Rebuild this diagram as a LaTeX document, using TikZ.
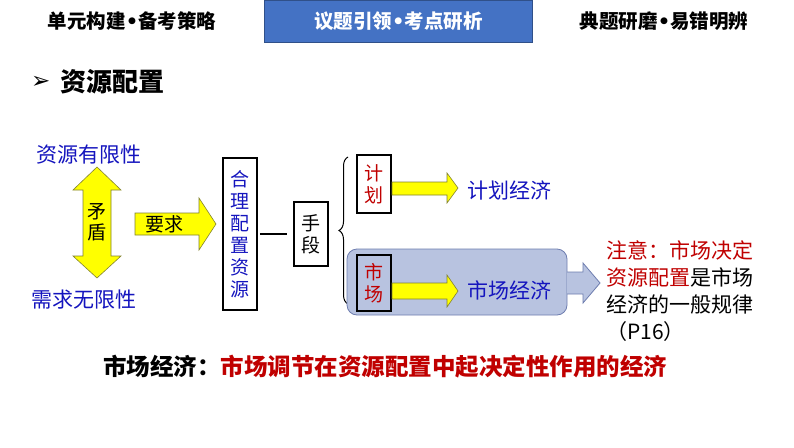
\documentclass[tikz,border=0pt]{standalone}
\usepackage{fontspec}
\setmainfont{Noto Sans CJK SC}
\newfontfamily\dejavu{DejaVu Sans}
\usetikzlibrary{decorations.pathreplacing}
\definecolor{hdrblue}{RGB}{68,114,196}
\definecolor{txtblue}{RGB}{20,20,190}
\definecolor{txtred}{RGB}{192,0,0}
\definecolor{yel}{RGB}{255,255,0}
\definecolor{yelborder}{RGB}{130,130,50}
\definecolor{boxblue}{RGB}{184,195,224}
\definecolor{boxbord}{RGB}{110,125,175}
\newcommand{\hdot}{{\dejavu\bfseries •}}
\begin{document}
\begin{tikzpicture}[x=1pt,y=-1pt,
  hdr/.style={font=\fontsize{19.5}{21}\selectfont\bfseries, inner sep=0pt},
  vbox/.style={draw=black, line width=1.6pt, align=center, inner sep=0pt,
     font=\fontsize{19}{22}\selectfont},
  lbl/.style={font=\fontsize{21}{23}\selectfont, inner sep=0pt},
  yarrow/.style={fill=yel, draw=yelborder, line width=0.6pt, line join=miter},
  barrow/.style={fill=boxblue, draw=boxbord, line width=0.8pt}
]
\useasboundingbox (0,0) rectangle (794,447);
\fill[white] (0,0) rectangle (794,447);

% header
\node[fill=hdrblue, draw=hdrblue!70!black, line width=0.6pt, minimum width=268pt, minimum height=42pt, inner sep=0pt, anchor=north west] (hbox) at (264,0) {};
\node[hdr, text=white] (htab) at (hbox.center) {议题引领\hdot 考点研析};
\node[hdr] (hleft) at (132,21) {单元构建\hdot 备考策略};
\node[hdr] (hright) at (664,21) {典题研磨\hdot 易错明辨};

% title
\node[inner sep=0pt, anchor=west] (tarrow) at (31,82) {\dejavu\fontsize{23}{24}\selectfont ➢};
\node[inner sep=0pt, anchor=west, font=\fontsize{26}{28}\selectfont\bfseries] (title) at (60,82) {资源配置};

% left texts
\node[lbl, text=txtblue] (limited) at (89,155) {资源有限性};
\node[lbl, text=txtblue] (unlimited) at (84,300) {需求无限性};

% double arrow
\filldraw[yarrow] (97,167) -- (121,190) -- (111,190) -- (111,256) -- (121,256) -- (97,278)
  -- (73,256) -- (83,256) -- (83,190) -- (73,190) -- cycle;
\node[align=center, inner sep=0pt, font=\fontsize{19}{21}\selectfont] (maodun) at (97,222) {矛\\盾};

% require arrow
\filldraw[yarrow] (135,213) -- (199,213) -- (199,198) -- (216,224) -- (199,250) -- (199,235) -- (135,235) -- cycle;
\node[inner sep=0pt, font=\fontsize{19}{21}\selectfont] (yaoqiu) at (164,224) {要求};

% boxes
\node[vbox, text=txtblue, minimum width=34pt, minimum height=152pt] (heli) at (240,234) {合\\理\\配\\置\\资\\源};
\node[vbox, minimum width=34pt, minimum height=64pt] (shouduan) at (311,234) {手\\段};
\draw[line width=1.6pt, shorten <=2pt, shorten >=6pt] (heli.east |- shouduan.west) -- (shouduan.west);

% brace
\draw[line width=1pt, decorate, decoration={brace, amplitude=9pt}] (348,304) -- (348,157);

% market background
\filldraw[barrow, rounded corners=10pt] (347,249) rectangle (567,315);
\filldraw[barrow] (567,272) -- (583,272) -- (583,263) -- (600,283) -- (583,303) -- (583,294) -- (567,294);

% plan / market boxes
\node[vbox, fill=white, text=txtred, minimum width=34pt, minimum height=58pt] (jihua) at (374,184) {计\\划};
\node[vbox, fill=boxblue, text=txtred, minimum width=34pt, minimum height=56pt] (shichang) at (374,283) {市\\场};

% yellow arrows
\filldraw[yarrow] (392,182) -- (447,182) -- (447,173) -- (458,188) -- (447,203) -- (447,195) -- (392,195) -- cycle;
\filldraw[yarrow] (392,283) -- (447,283) -- (447,275) -- (458,291) -- (447,307) -- (447,299) -- (392,299) -- cycle;

\node[lbl, text=txtblue, anchor=west] (jhjj) at (467,190) {计划经济};
\node[lbl, text=txtblue, anchor=west] (scjj) at (467,290) {市场经济};

% note
\node[inner sep=0pt, anchor=north west, align=left, font=\fontsize{21}{27}\selectfont] (note) at (606,240)
  {\textcolor{txtred}{注意：市场决定}\\\textcolor{txtred}{资源配置}是市场\\经济的一般规律\\（P16）};

% bottom
\node[inner sep=0pt, font=\fontsize{23.5}{25}\selectfont\bfseries] (bottom) at (385,367)
  {市场经济：\textcolor{txtred}{市场调节在资源配置中起决定性作用的经济}};
\end{tikzpicture}
\end{document}
